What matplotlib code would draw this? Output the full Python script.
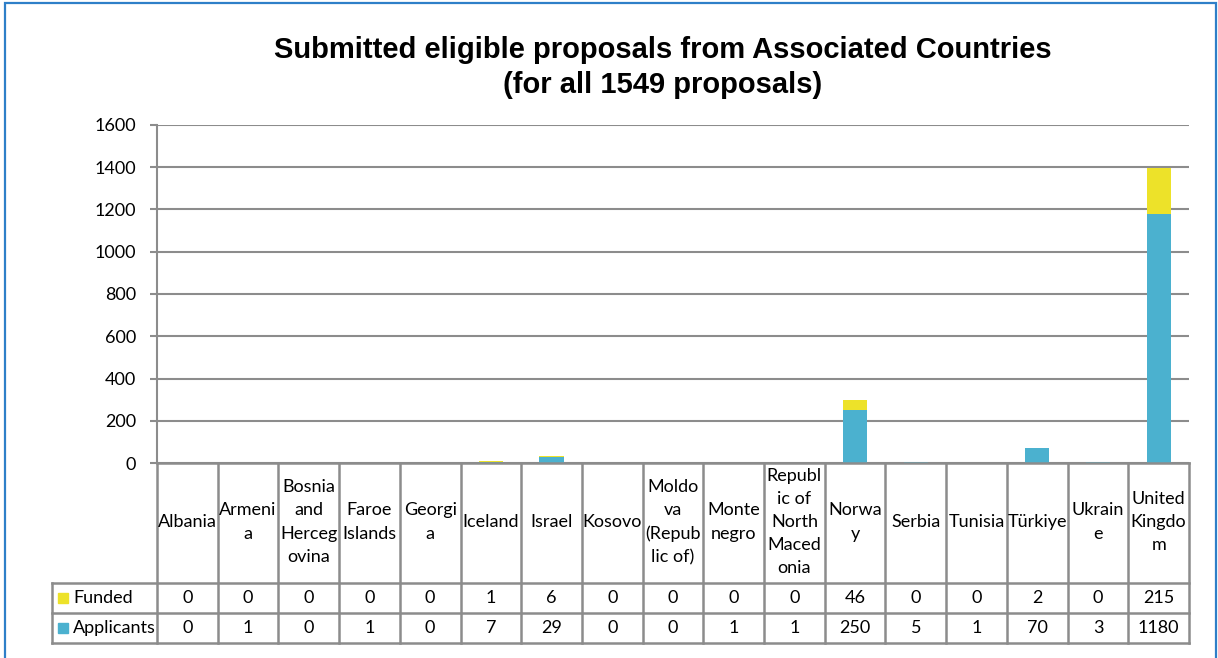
import numpy as np
import matplotlib.pyplot as plt
from matplotlib.patches import Rectangle

countries = ["Albania", "Armeni\na", "Bosnia\nand\nHerceg\novina", "Faroe\nIslands",
             "Georgi\na", "Iceland", "Israel", "Kosovo", "Moldo\nva\n(Repub\nlic of)",
             "Monte\nnegro", "Republ\nic of\nNorth\nMaced\nonia", "Norwa\ny", "Serbia",
             "Tunisia", "Türkiye", "Ukrain\ne", "United\nKingdo\nm"]
applicants = [0, 1, 0, 1, 0, 7, 29, 0, 0, 1, 1, 250, 5, 1, 70, 3, 1180]
funded = [0, 0, 0, 0, 0, 1, 6, 0, 0, 0, 0, 46, 0, 0, 2, 0, 215]
series_names = ["Funded", "Applicants"]
yticks = [0, 200, 400, 600, 800, 1000, 1200, 1400, 1600]

col_applicants = "#4BB1CF"
col_funded = "#EDE229"
grid_col = "#8C8C8C"
font = "Lato"

W, H = 1218, 658
fig = plt.figure(figsize=(W / 100, H / 100), dpi=100)

# blue frame around the chart
fig.patches.append(Rectangle((5 / W, -0.05), (1216 - 5) / W, 1.05 - 3 / H,
                             transform=fig.transFigure, fill=False,
                             edgecolor="#2E7FC8", linewidth=1.6))

fig.text(663 / W, 1 - 50 / H, "Submitted eligible proposals from Associated Countries",
         ha="center", va="center", fontsize=21, fontweight="bold", family="Liberation Sans")
fig.text(663 / W, 1 - 85 / H, "(for all 1549 proposals)",
         ha="center", va="center", fontsize=21, fontweight="bold", family="Liberation Sans")

# bar area
x0, x1, yt, yb = 157, 1189, 125, 463
ax = fig.add_axes([x0 / W, 1 - yb / H, (x1 - x0) / W, (yb - yt) / H])
x = np.arange(len(countries))
ax.bar(x, applicants, width=0.4, color=col_applicants, zorder=3)
ax.bar(x, funded, width=0.4, bottom=applicants, color=col_funded, zorder=3)
ax.set_xlim(-0.5, len(countries) - 0.5)
ax.set_ylim(0, 1600)
ax.set_yticks(yticks)
ax.set_yticklabels([str(v) for v in yticks], family=font, fontsize=13)
ax.yaxis.grid(True, color=grid_col, linewidth=1.5, zorder=0)
ax.set_xticks([])
for s in ["top", "right", "bottom"]:
    ax.spines[s].set_visible(False)
ax.spines["left"].set_color(grid_col)
ax.spines["left"].set_linewidth(1.5)
ax.tick_params(axis="y", length=5, width=1.5, color=grid_col, pad=10)

# data table below the bars
n = len(countries)
lab_w = (157 - 52) / (x1 - x0) * n
tax = fig.add_axes([52 / W, 1 - 643 / H, (x1 - 52) / W, (643 - 463) / H])
tax.set_xlim(-0.5 - lab_w, n - 0.5)
tax.set_ylim(180, 0)
tax.axis("off")
lw = 1.8
tax.plot([-0.5, n - 0.5], [0, 0], color=grid_col, lw=lw, clip_on=False)
for yy in [120, 150, 180]:
    tax.plot([-0.5 - lab_w, n - 0.5], [yy, yy], color=grid_col, lw=lw, clip_on=False)
for i in range(n + 1):
    tax.plot([i - 0.5, i - 0.5], [0, 180], color=grid_col, lw=lw, clip_on=False)
tax.plot([-0.5 - lab_w] * 2, [120, 180], color=grid_col, lw=lw, clip_on=False)

for i, name in enumerate(countries):
    tax.text(i, 59, name, ha="center", va="center", fontsize=13, family=font,
             linespacing=1.55)
    tax.text(i, 135, str(funded[i]), ha="center", va="center", fontsize=13, family=font)
    tax.text(i, 165, str(applicants[i]), ha="center", va="center", fontsize=13, family=font)

px = n / (x1 - x0)
for yy, name, c in [(135, series_names[0], col_funded), (165, series_names[1], col_applicants)]:
    tax.add_patch(Rectangle((-0.5 - lab_w + 6 * px, yy - 5), 10 * px, 10,
                            color=c, clip_on=False))
    tax.text(-0.5 - lab_w + 21 * px, yy, name, ha="left", va="center",
             fontsize=13, family=font)

fig.savefig("out.png", dpi=100)
